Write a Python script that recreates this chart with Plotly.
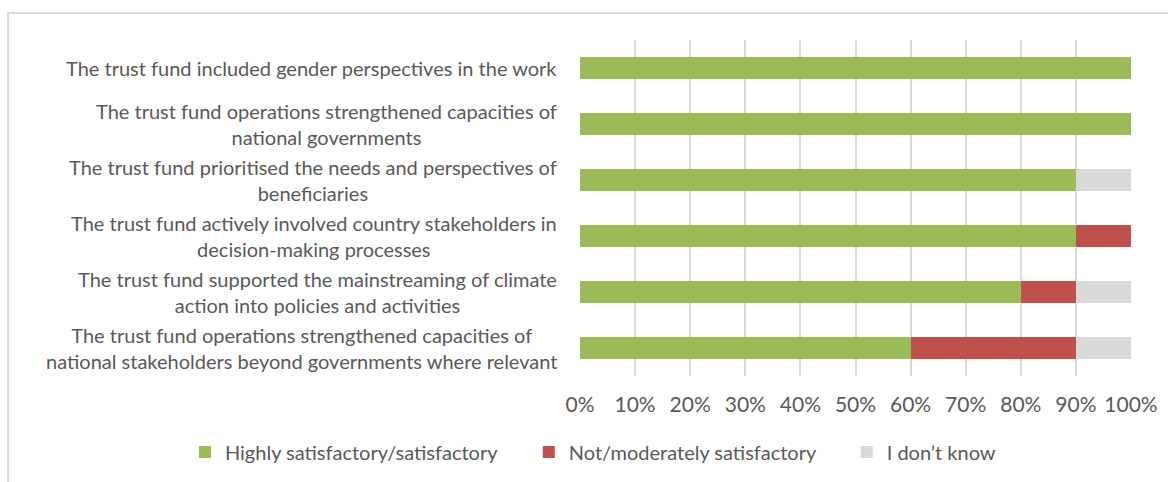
import plotly.graph_objects as go

# Survey statements, listed top to bottom as drawn
statements = [
    "The trust fund included gender perspectives in the work",
    "The trust fund operations strengthened capacities of<br>national governments",
    "The trust fund prioritised the needs and perspectives of<br>beneficiaries",
    "The trust fund actively involved country stakeholders in<br>decision-making processes",
    "The trust fund supported the mainstreaming of climate<br>action into policies and activities",
    "The trust fund operations strengthened capacities of<br>national stakeholders beyond governments where relevant",
]

satisfactory = [1.00, 1.00, 0.90, 0.90, 0.80, 0.60]
not_satisfactory = [0.00, 0.00, 0.00, 0.10, 0.10, 0.30]
dont_know = [0.00, 0.00, 0.10, 0.00, 0.10, 0.10]

series_names = ["Highly satisfactory/satisfactory", "Not/moderately satisfactory", "I don\u2019t know"]
series_values = [satisfactory, not_satisfactory, dont_know]
series_colors = ["#9BBB59", "#C0504D", "#D9D9D9"]

tick_values = [i / 10 for i in range(11)]
tick_labels = [f"{i * 10}%" for i in range(11)]

FONT = "Lato"
TEXT_GREY = "#595959"
LABEL_SIZE = 20

# One legend per series so each entry sits at its own horizontal position
legend_ids = ["legend", "legend2", "legend3"]
legend_x = [-0.717, -0.093, 0.484]

fig = go.Figure()
for name, vals, color, lid in zip(series_names, series_values, series_colors, legend_ids):
    fig.add_trace(go.Bar(
        y=statements, x=vals, name=name, orientation="h", legend=lid,
        marker=dict(color=color, line=dict(width=0)),
    ))

# Centred, multi-line category labels to the left of the plot area
for s in statements:
    fig.add_annotation(
        x=0, xref="paper", y=s, yref="y", text=s, showarrow=False,
        xanchor="right", yanchor="middle", align="center", xshift=-21,
        font=dict(family=FONT, size=LABEL_SIZE, color=TEXT_GREY),
    )

# Outer chart frame
fig.add_shape(type="rect", xref="paper", yref="paper",
              x0=-1.038, x1=1.2, y0=-1.0, y1=1.0804,
              line=dict(color="#D9D9D9", width=2), fillcolor="rgba(0,0,0,0)", layer="below")

legend_style = dict(orientation="h", xref="paper", yref="paper", xanchor="left",
                    y=-0.226, yanchor="middle", itemwidth=30, bgcolor="rgba(0,0,0,0)",
                    font=dict(family=FONT, size=20, color=TEXT_GREY))

fig.update_layout(
    barmode="stack",
    bargap=0.6,
    width=1168, height=482,
    margin=dict(l=580, r=37, t=40, b=106, autoexpand=False),
    plot_bgcolor="white", paper_bgcolor="white",
    font=dict(family=FONT, size=LABEL_SIZE, color=TEXT_GREY),
    showlegend=True,
    xaxis=dict(range=[0, 1], tickvals=tick_values, ticktext=tick_labels,
               showgrid=True, gridcolor="#D9D9D9", gridwidth=2,
               zeroline=False, showline=False, ticks="", ticklabelstandoff=14,
               tickfont=dict(family=FONT, size=21, color=TEXT_GREY)),
    yaxis=dict(autorange="reversed", showticklabels=False, showgrid=False,
               zeroline=False, showline=False, ticks=""),
)
fig.update_layout({lid: dict(legend_style, x=lx) for lid, lx in zip(legend_ids, legend_x)})

fig.write_html("out.html")
